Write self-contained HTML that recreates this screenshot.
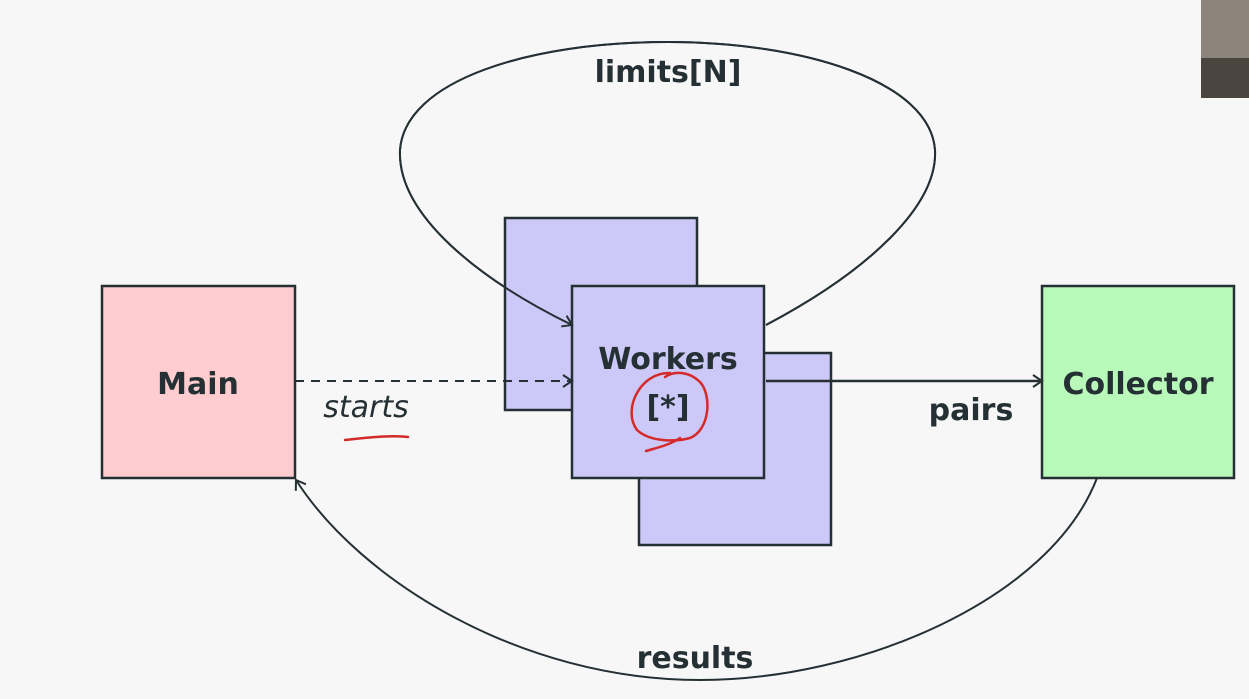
<!DOCTYPE html>
<html><head><style>
html,body{margin:0;padding:0;background:#f7f7f7;}
svg{display:block;}
text{font-family:"DejaVu Sans","Liberation Sans",sans-serif;fill:#253035;}
</style></head><body>
<svg width="1249" height="699" viewBox="0 0 1249 699" xmlns="http://www.w3.org/2000/svg">
<defs>
<marker id="a" markerWidth="14" markerHeight="14" refX="11" refY="7" orient="auto" markerUnits="userSpaceOnUse">
<path d="M2,1 L11,7 L2,13" fill="none" stroke="#253035" stroke-width="2"/>
</marker>
</defs>
<rect x="0" y="0" width="1249" height="699" fill="#f7f7f7"/>
<rect x="1201" y="0" width="48" height="98" fill="#8d857b"/>
<rect x="1201" y="58" width="48" height="40" fill="#4a463f"/>
<g fill="none" stroke="#253035" stroke-width="2">
<path d="M766,325 C870,270 938,205 935,150 C930,80 800,42 668,42 C530,42 405,80 400,150 C397,215 480,280 572,325" marker-end="url(#a)"/>
</g>
<g stroke="#253035" stroke-width="2.5">
<rect x="102" y="286" width="193" height="192" fill="#ffccd0"/>
<rect x="505" y="218" width="192" height="192" fill="#ccc8f8"/>
<rect x="639" y="353" width="192" height="192" fill="#ccc8f8"/>
<rect x="572" y="286" width="192" height="192" fill="#ccc8f8"/>
<rect x="1042" y="286" width="192" height="192" fill="#b8f8b8"/>
</g>
<g fill="none" stroke="#253035" stroke-width="2">
<path d="M766,325 C870,270 938,205 935,150 C930,80 800,42 668,42 C530,42 405,80 400,150 C397,215 480,280 572,325" marker-end="url(#a)"/>
<path d="M295,381 L572,381" stroke-dasharray="9,7" marker-end="url(#a)"/>
<path d="M766,381 L1042,381" stroke-width="2.5" marker-end="url(#a)"/>
<path d="M1097,478 C1050,600 860,680 700,680 C520,680 360,580 296,480" marker-end="url(#a)"/>
</g>
<g font-weight="bold" font-size="30" text-anchor="middle">
<text x="668" y="82">limits[N]</text>
<text x="198" y="394">Main</text>
<text x="668" y="369">Workers</text>
<text x="668" y="417">[*]</text>
<text x="1138" y="394">Collector</text>
<text x="971" y="420">pairs</text>
<text x="695" y="668">results</text>
</g>
<text x="366" y="417" font-style="italic" font-size="30" text-anchor="middle">starts</text>
<g fill="none" stroke="#d42a2a" stroke-width="2.5" stroke-linecap="round">
<path d="M345,440 C370,437 395,435 408,437"/>
<path d="M670,373 C640,372 622,410 637,430 C650,442 675,442 690,438 C710,430 712,395 700,382 C690,372 675,370 665,377 M680,438 C670,445 656,448 646,451"/>
</g>
</svg>
</body></html>
